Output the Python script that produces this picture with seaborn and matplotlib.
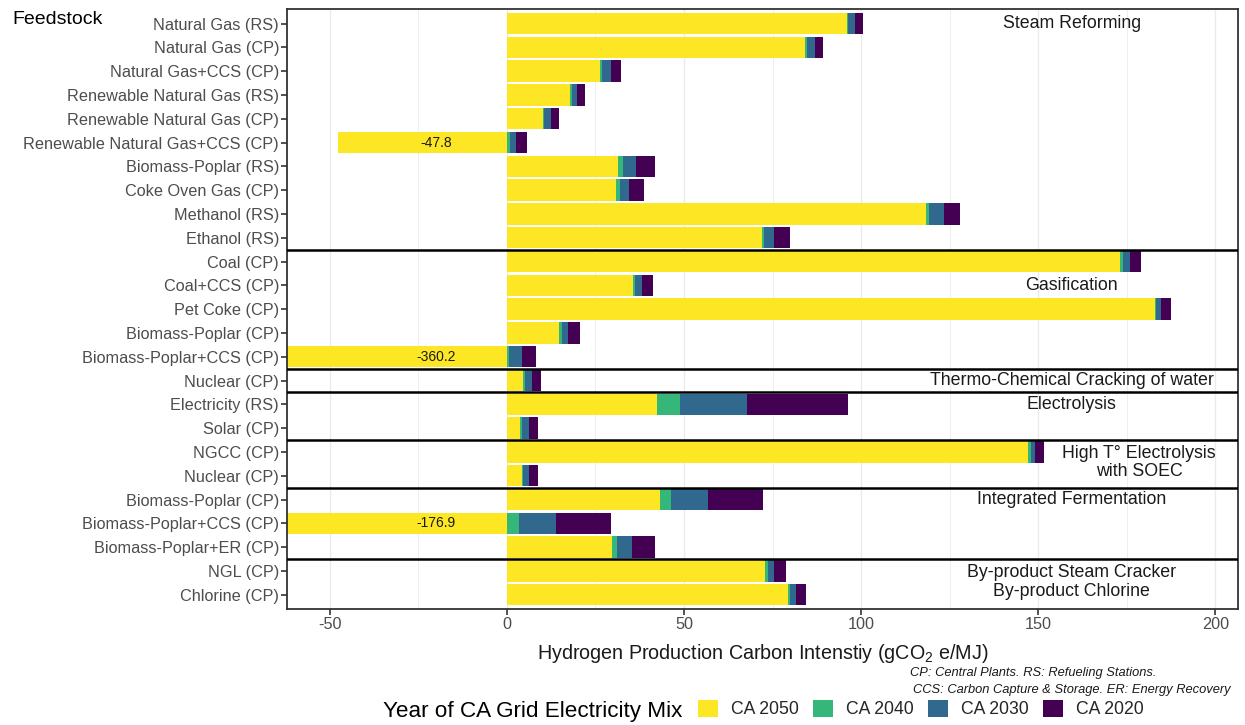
import numpy as np
import pandas as pd
import matplotlib
matplotlib.use("Agg")
import matplotlib.pyplot as plt
from matplotlib.patches import Patch
import seaborn as sns

# ---------------- data ----------------
feedstocks = ["Natural Gas (RS)", "Natural Gas (CP)", "Natural Gas+CCS (CP)",
              "Renewable Natural Gas (RS)", "Renewable Natural Gas (CP)",
              "Renewable Natural Gas+CCS (CP)", "Biomass-Poplar (RS)",
              "Coke Oven Gas (CP)", "Methanol (RS)", "Ethanol (RS)",
              "Coal (CP)", "Coal+CCS (CP)", "Pet Coke (CP)", "Biomass-Poplar (CP)",
              "Biomass-Poplar+CCS (CP)", "Nuclear (CP)", "Electricity (RS)",
              "Solar (CP)", "NGCC (CP)", "Nuclear (CP)", "Biomass-Poplar (CP)",
              "Biomass-Poplar+CCS (CP)", "Biomass-Poplar+ER (CP)", "NGL (CP)",
              "Chlorine (CP)"]
ca2050 = [96.0, 84.3, 26.4, 17.7, 10.2, -47.8, 31.5, 30.7, 118.4, 71.9,
          173.2, 35.6, 182.9, 14.8, -360.2, 4.4, 42.3, 3.6, 147.2, 4.2,
          43.2, -176.9, 29.7, 73.0, 79.5]
ca2040 = [0.3, 0.4, 0.4, 0.6, 0.3, 0.8, 1.4, 1.1, 0.8, 0.6,
          0.7, 0.7, 0.4, 0.7, 0.5, 0.7, 6.5, 0.7, 0.8, 0.2,
          3.0, 3.3, 1.4, 0.6, 0.5]
ca2030 = [2.1, 2.2, 2.5, 1.4, 2.0, 1.7, 3.6, 2.7, 4.1, 3.0,
          2.1, 1.9, 1.5, 1.7, 3.7, 2.0, 19.1, 1.8, 1.0, 1.7,
          10.5, 10.5, 4.3, 1.9, 1.6]
ca2020 = [2.0, 2.3, 2.8, 2.3, 2.3, 3.2, 5.2, 4.2, 4.7, 4.3,
          3.1, 3.0, 2.6, 3.4, 4.1, 2.6, 28.4, 2.6, 2.6, 2.6,
          15.5, 15.5, 6.5, 3.2, 2.9]
series = ["CA 2050", "CA 2040", "CA 2030", "CA 2020"]
colors = ["#FDE725", "#35B779", "#31688E", "#440154"]

groups = [("Steam Reforming", 0), ("Gasification", 11),
          ("Thermo-Chemical Cracking of water", 15), ("Electrolysis", 16),
          ("High T° Electrolysis\nwith SOEC", 18.45),
          ("Integrated Fermentation", 20),
          ("By-product Steam Cracker\nBy-product Chlorine", 23.47)]
separators = [9.5, 14.5, 15.5, 17.5, 19.5, 22.5]

# ---------------- build cumulative ends ----------------
y2050 = np.array(ca2050)
base = np.clip(y2050, 0, None)
e2040 = base + np.array(ca2040)
e2030 = e2040 + np.array(ca2030)
e2020 = e2030 + np.array(ca2020)
rows = np.arange(len(feedstocks))
df = pd.DataFrame({"row": rows, "CA 2050": y2050, "CA 2040": e2040,
                   "CA 2030": e2030, "CA 2020": e2020})

# ---------------- plot ----------------
sns.set_theme(style="white")
plt.rcParams["font.family"] = ["Liberation Sans", "DejaVu Sans"]
plt.rcParams["mathtext.fontset"] = "custom"
plt.rcParams["mathtext.rm"] = "Liberation Sans"
plt.rcParams["mathtext.it"] = "Liberation Sans:italic"

fig = plt.figure(figsize=(12.45, 7.25), dpi=100)
ax = fig.add_axes([0.2308, 0.16, 0.9946 - 0.2308, 0.9872 - 0.16])

# grid lines
for gx in [-50, -25, 0, 25, 50, 75, 100, 125, 150, 175, 200]:
    ax.axvline(gx, color="#EBEBEB", lw=1.0 if gx % 50 == 0 else 0.6, zorder=0)

# draw from longest (back) to yellow (front)
for name, col in zip(series[::-1], colors[::-1]):
    sns.barplot(data=df, x=name, y="row", orient="h", color=col, width=0.9,
                saturation=1, linewidth=0, ax=ax, zorder=2)

for v, r in zip(ca2050, rows):
    if v < 0:
        ax.text(-20, r, f"{v:.1f}", ha="center", va="center", fontsize=10,
                color="#1a1a1a", zorder=4)

for s in separators:
    ax.axhline(s, color="black", lw=1.8, zorder=5)

for txt, r in groups:
    xx = 178.5 if txt.startswith("High") else 159.5
    ax.text(xx, r, txt, ha="center", va="center", fontsize=12.8,
            color="#1a1a1a", linespacing=1.1, zorder=4)

ax.set_xlim(-62, 206.5)
ax.set_ylim(24.6, -0.6)
ax.set_xticks([-50, 0, 50, 100, 150, 200])
ax.set_xticklabels(["-50", "0", "50", "100", "150", "200"])
ax.set_yticks(rows)
ax.set_yticklabels(feedstocks)
ax.tick_params(axis="both", which="major", labelsize=11.7, labelcolor="#4D4D4D",
               length=4, width=1.2, color="#333333", left=True, bottom=True, pad=2)
ax.set_ylabel("")
ax.set_xlabel("Hydrogen Production Carbon Intenstiy (gCO$_2$ e/MJ)",
              fontsize=14.2, color="#1a1a1a", labelpad=7)
for sp in ax.spines.values():
    sp.set_visible(True)
    sp.set_color("#333333")
    sp.set_linewidth(1.3)

fig.text(12 / 1245, 1 - 20 / 725, "Feedstock", fontsize=14, ha="left",
         va="center", color="black")

fig.text(910 / 1245, 1 - 673 / 725, "CP: Central Plants. RS: Refueling Stations.",
         fontsize=9.3, style="italic", ha="left", va="center", color="#1a1a1a")
fig.text(913 / 1245, 1 - 690 / 725, "CCS: Carbon Capture & Storage. ER: Energy Recovery",
         fontsize=9.3, style="italic", ha="left", va="center", color="#1a1a1a")

fig.text(383 / 1245, 1 - 711 / 725, "Year of CA Grid Electricity Mix",
         fontsize=16.2, ha="left", va="center", color="black")
handles = [Patch(facecolor=c, edgecolor="none", label=s) for s, c in zip(series, colors)]
fig.legend(handles=handles, ncol=4, loc="center left",
           bbox_to_anchor=(698 / 1245, 1 - 709 / 725), frameon=False,
           fontsize=12.7, handlelength=1.15, handleheight=1.15,
           handletextpad=0.72, columnspacing=0.8, borderpad=0, borderaxespad=0)

fig.savefig("out.png", dpi=100)
